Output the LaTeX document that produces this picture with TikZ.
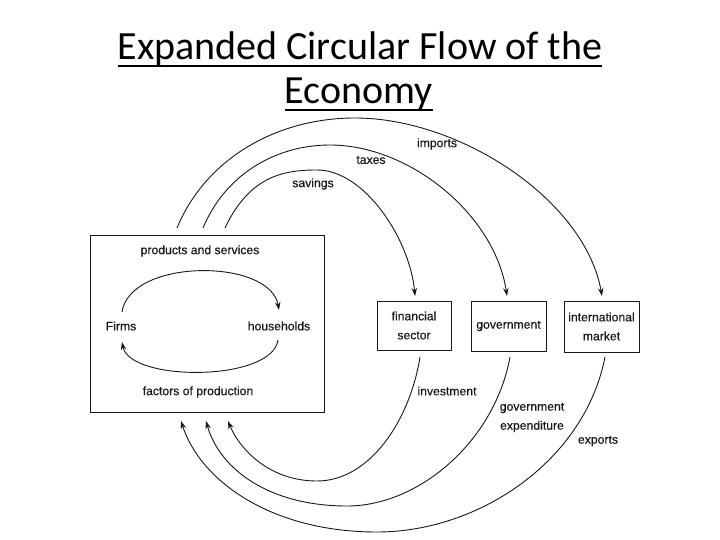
\documentclass[tikz,border=0pt]{standalone}
\usepackage{fontspec}
\setmainfont{Liberation Sans}
\newfontfamily\lblfont[FakeBold=0.4]{Liberation Sans}
\newfontfamily\titlefont{Carlito}
\usetikzlibrary{arrows.meta}
\newcommand{\ulfix}[1]{\setbox0\hbox{#1}\rlap{\rule[-7pt]{\wd0}{2.4pt}}\box0}
\begin{document}
\begin{tikzpicture}[x=1pt,y=-1pt,
  lbl/.style={font=\lblfont\fontsize{12.2}{19}\selectfont, text=black!90, inner sep=0pt, align=center},
  boxnode/.style={draw=black!90, line width=0.9pt, inner sep=0pt, lbl},
  flow/.style={draw=black!90, line width=0.9pt, -{Stealth[length=8pt,width=5.5pt]}},
  ttl/.style={font=\titlefont\fontsize{40}{46}\selectfont, anchor=base, inner sep=0pt}]
\useasboundingbox (0,0) rectangle (720,540);
\fill[white] (0,0) rectangle (720,540);
% title
\node[ttl] (t1) at (360,60) {\ulfix{Expanded Circular Flow of the}};
\node[ttl] (t2) at (359,104) {\ulfix{Economy}};
% boxes
\node[boxnode, minimum width=234pt, minimum height=177pt] (econ) at (207,323.5) {};
\node[boxnode, minimum width=74pt, minimum height=49pt] (fin) at (414,325.5) {financial\\sector};
\node[boxnode, minimum width=75pt, minimum height=50pt] (gov) at (508.5,326) {government};
\node[boxnode, minimum width=75pt, minimum height=51pt] (intl) at (601.5,326.5) {international\\market};
% inner labels
\node[lbl] (ps) at (200,251) {products and services};
\node[lbl] (firms) at (121,326) {Firms};
\node[lbl] (hh) at (279,326) {households};
\node[lbl] (fp) at (198,392) {factors of production};
% outer labels
\node[lbl] (limp) at (437,144) {imports};
\node[lbl] (ltax) at (371,160) {taxes};
\node[lbl] (lsav) at (313,184) {savings};
\node[lbl] (linv) at (447,391) {investment};
\node[lbl] (lgov) at (532,417.5) {government\\expenditure};
\node[lbl] (lexp) at (598,441) {exports};
% coordinates
\coordinate (fs) at (122,312);
\coordinate (he) at (279,310);
\coordinate (hs) at (278,340);
\coordinate (fe) at (122,342);
\coordinate (impS) at (177,228);
\coordinate (taxS) at (203,228);
\coordinate (savS) at (225,228);
\coordinate (savE) at (415,296);
\coordinate (taxE) at (507,296);
\coordinate (impE) at (602,296);
\coordinate (invS) at (420,357);
\coordinate (gexS) at (510,357);
\coordinate (expS) at (605,357);
\coordinate (invE) at (228,421);
\coordinate (gexE) at (206,421);
\coordinate (expE) at (181,421);
% inner flows
\draw[flow] (fs) .. controls (130,258) and (270,258) .. (he);
\draw[flow] (hs) .. controls (272,382) and (130,382) .. (fe);
% outer top flows
\draw[flow] (savS) .. controls (250,175) and (285,170) .. (317,170) .. controls (365,170) and (410,240) .. (savE);
\draw[flow] (taxS) .. controls (225,175) and (275,145) .. (330,145) .. controls (410,145) and (495,215) .. (taxE);
\draw[flow] (impS) .. controls (205,160) and (275,118) .. (355,118) .. controls (460,118) and (585,200) .. (impE);
% outer bottom flows
\draw[flow] (invS) .. controls (410,420) and (370,481) .. (317,481) .. controls (270,481) and (240,450) .. (invE);
\draw[flow] (gexS) .. controls (495,440) and (420,506) .. (347,506) .. controls (270,506) and (220,470) .. (gexE);
\draw[flow] (expS) .. controls (585,460) and (480,532) .. (377,532) .. controls (270,532) and (200,480) .. (expE);
\end{tikzpicture}
\end{document}
